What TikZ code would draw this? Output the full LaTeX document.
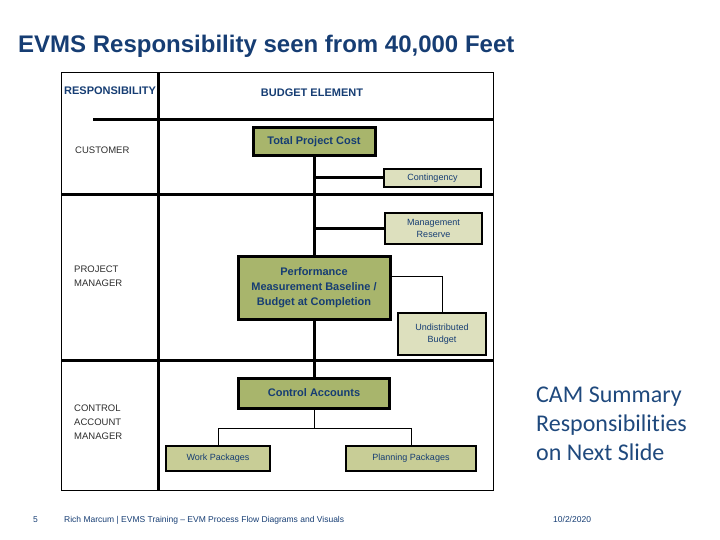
\documentclass[tikz,border=0pt]{standalone}
\usepackage{fontspec}
\setmainfont{Liberation Sans}
\newfontfamily\camfont[Ligatures=NoCommon]{Carlito}
\usetikzlibrary{calc}
\definecolor{evmsnavy}{RGB}{22,61,115}
\definecolor{camblue}{RGB}{31,73,125}
\definecolor{olivefill}{RGB}{168,181,108}
\definecolor{palefill}{RGB}{221,224,190}
\definecolor{pkgfill}{RGB}{200,205,150}
\definecolor{rolegrey}{RGB}{45,45,45}
\tikzset{
  bigbox/.style={draw=black, line width=3pt, fill=olivefill, text=evmsnavy,
    font=\fontsize{11}{15}\selectfont\bfseries, align=center, inner sep=0pt},
  smallbox/.style={draw=black, line width=2.5pt, fill=palefill, text=evmsnavy,
    font=\fontsize{9}{12.5}\selectfont, align=center, inner sep=0pt},
  wpbox/.style={smallbox, fill=pkgfill},
  rolelabel/.style={anchor=west, text=rolegrey, font=\fontsize{9.5}{14}\selectfont,
    align=left, inner sep=0pt},
  headlabel/.style={anchor=base, text=evmsnavy, font=\fontsize{11}{13}\selectfont\bfseries,
    inner sep=0pt},
  footlabel/.style={anchor=base west, text=evmsnavy, font=\fontsize{8.5}{10}\selectfont,
    inner sep=0pt},
  thickrule/.style={line width=3pt},
  trunk/.style={line width=3pt},
  twig/.style={line width=1pt}
}

\begin{document}
\begin{tikzpicture}[x=1pt, y=-1pt]
		%%%%% START %%%%%
		\useasboundingbox (0,0) rectangle (720,540);
		
		\node[anchor=base west, inner sep=0pt, text=evmsnavy, font=\fontsize{24}{28}\selectfont\bfseries] (title) at (18, 52.5) {EVMS Responsibility seen from 40,000 Feet};
		
		% table
		\draw[line width=1pt] (61, 73) rectangle (493, 490);
		\draw[thickrule] (158, 73) -- (158, 490);
		\draw[thickrule] (93, 120) -- (494, 120);
		\draw[thickrule] (61, 195) -- (493, 195);
		\draw[thickrule] (61, 360) -- (493, 360);
		
		\node[headlabel, anchor=base west] (resp) at (64, 95) {RESPONSIBILITY};
		\node[headlabel] (budget) at (312, 97) {BUDGET ELEMENT};
		
		\node[rolelabel] (customer) at (75, 150) {CUSTOMER};
		\node[rolelabel] (pm) at (74, 276) {PROJECT\\MANAGER};
		\node[rolelabel] (cam) at (74, 422) {CONTROL\\ACCOUNT\\MANAGER};
		
		% budget elements
		\node[bigbox, minimum width=122pt, minimum height=28pt] (tpc) at (314, 142) {Total Project Cost};
		\node[smallbox, minimum width=97pt, minimum height=18pt] (cont) at (432.5, 178) {Contingency};
		\node[smallbox, minimum width=97pt, minimum height=31pt] (mr) at (433.5, 228.5) {Management\\Reserve};
		\node[bigbox, minimum width=152pt, minimum height=63pt] (pmb) at (314, 287.5) {Performance\\Measurement Baseline /\\Budget at Completion};
		\node[smallbox, minimum width=88pt, minimum height=42pt] (ub) at (442, 334) {Undistributed\\Budget};
		\node[bigbox, minimum width=151pt, minimum height=30pt] (ca) at (314, 393) {Control Accounts};
		\node[wpbox, minimum width=104pt, minimum height=25pt] (wp) at (218, 458.5) {Work Packages};
		\node[wpbox, minimum width=130pt, minimum height=25pt] (pp) at (411, 458.5) {Planning Packages};
		
		\draw[trunk] (tpc.south) -- (pmb.north);
		\draw[trunk] (tpc.south |- cont.west) -- (cont.west);
		\draw[trunk] (tpc.south |- mr.west) -- (mr.west);
		\draw[twig] (pmb.8) -| (ub.north);
		\draw[trunk] (pmb.south) -- (ca.north);
		\draw[twig] (ca.south) -- ++(0, 19) -| (wp.north);
		\draw[twig] (ca.south) -- ++(0, 19) -| (pp.north);
		
		\node[anchor=base west, inner sep=0pt, text=camblue, align=left, font=\camfont\fontsize{24}{29}\selectfont] (camnote) at (536, 460) {CAM Summary\\Responsibilities\\on Next Slide};
		
		% footer
		\node[footlabel] (pageno) at (33, 522) {5};
		\node[footlabel] (footer) at (64, 522) {Rich Marcum | EVMS Training – EVM Process Flow Diagrams and Visuals};
		\node[footlabel] (date) at (553, 522) {10/2/2020};
		%%%%% END %%%%%
\end{tikzpicture}
\end{document}
